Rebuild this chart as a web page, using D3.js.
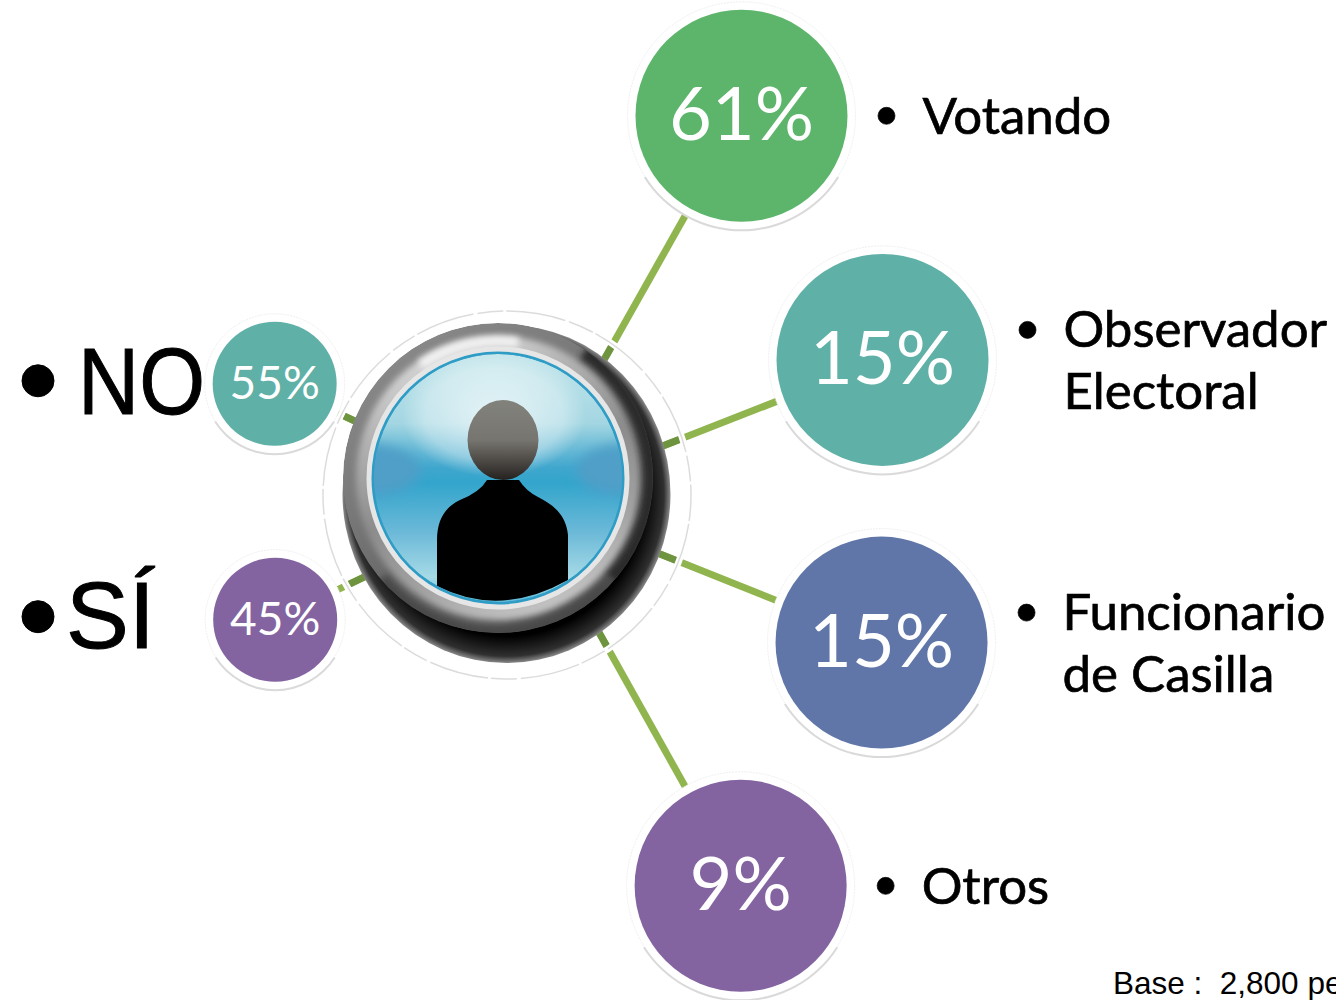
<!DOCTYPE html>
<html>
<head>
<meta charset="utf-8">
<script src="https://cdn.jsdelivr.net/npm/d3@7"></script>
<style>
  html, body { margin: 0; background: #fff; overflow: hidden; }
  svg { display: block; }
  text { white-space: pre; }
</style>
</head>
<body>
<svg id="chart" viewBox="0 0 1336 1000" width="1336" height="1000"></svg>
<script>
// values
const participation = [["Votando"], ["Observador", "Electoral"], ["Funcionario", "de Casilla"], ["Otros"]];
const participationPct = [61, 15, 15, 9];
const answers = ["NO", "SÍ"];
const answersPct = [55, 45];
const baseNote = "Base :  2,800 personas";

// layout: polar placement round the point where the spokes meet
const spokeOrigin = [525, 500];
const bigAngles = [29.4, 68.6, 111.8, 150.8];
const bigDistances = [441, 384, 384, 442];
const smallAngles = [294.9, 244.4];
const smallDistances = [276, 277];
const bigColors = ["#5cb56a", "#5fb0a6", "#6076a8", "#8364a1"];
const smallColors = ["#5fb0a6", "#8364a1"];
const bigR = 106;
const smallR = 62;
const hub = { x: 498, y: 478 };

const svg = d3.select("#chart");
const defs = svg.append("defs");

function place(angle, dist) {
  const p = d3.pointRadial(angle * Math.PI / 180, dist);
  return [spokeOrigin[0] + p[0], spokeOrigin[1] + p[1]];
}

const bubbles = participation.map((lines, i) => {
  const [x, y] = place(bigAngles[i], bigDistances[i]);
  return { lines, pct: participationPct[i], x, y, r: bigR, color: bigColors[i], size: 74 };
}).concat(answers.map((name, i) => {
  const [x, y] = place(smallAngles[i], smallDistances[i]);
  return { lines: [name], pct: answersPct[i], x, y, r: smallR, color: smallColors[i], size: 46 };
}));

function gradient(id, stops, x1 = 0, y1 = 0, x2 = 0, y2 = 1) {
  const g = defs.append("linearGradient").attr("id", id)
    .attr("x1", x1).attr("y1", y1).attr("x2", x2).attr("y2", y2);
  stops.forEach(s => g.append("stop").attr("offset", s[0]).attr("stop-color", s[1]).attr("stop-opacity", s[2] === undefined ? 1 : s[2]));
}

gradient("metalOuter", [[0, "#8c8c8c"], [0.3, "#7c7c7c"], [0.55, "#6a6a6a"], [0.8, "#6c6c6c"], [1, "#3c3c3c"]], 0.15, 0, 0.85, 1);
gradient("metalInner", [[0, "#dedede"], [0.22, "#b4b4b4"], [0.5, "#8c8c8c"], [0.75, "#a2a2a2"], [1, "#cacaca"]], 0.3, 0, 0.7, 1);
gradient("glass", [[0, "#c4e6eb"], [0.28, "#a3d6e2"], [0.46, "#3fa6cd"], [0.52, "#33a5cc"], [0.72, "#6cb9d8"], [0.9, "#a6dae6"], [1, "#5db8d6"]]);
gradient("head", [[0, "#82827c"], [0.5, "#77756f"], [1, "#25211f"]]);

const glow = defs.append("radialGradient").attr("id", "glow");
glow.append("stop").attr("offset", 0).attr("stop-color", "#fff").attr("stop-opacity", 0.7);
glow.append("stop").attr("offset", 0.75).attr("stop-color", "#fff").attr("stop-opacity", 0.35);
glow.append("stop").attr("offset", 1).attr("stop-color", "#fff").attr("stop-opacity", 0);

const shadowGrad = defs.append("radialGradient").attr("id", "shadow");
shadowGrad.append("stop").attr("offset", 0.84).attr("stop-color", "#000");
shadowGrad.append("stop").attr("offset", 0.96).attr("stop-color", "#303030");
shadowGrad.append("stop").attr("offset", 1).attr("stop-color", "#8a8a8a");

function blur(id, amount) {
  defs.append("filter").attr("id", id).attr("filterUnits", "userSpaceOnUse")
    .attr("x", -700).attr("y", -700).attr("width", 2800).attr("height", 2800)
    .append("feGaussianBlur").attr("stdDeviation", amount);
}
blur("soft", 3);
blur("softer", 6);

defs.append("clipPath").attr("id", "insideRing").append("circle")
  .attr("cx", 507).attr("cy", 495).attr("r", 181);
defs.append("clipPath").attr("id", "hubClip").append("circle")
  .attr("cx", 0).attr("cy", 0).attr("r", 155);
defs.append("clipPath").attr("id", "glassClip").append("circle")
  .attr("cx", hub.x).attr("cy", hub.y).attr("r", 124);

// spokes
svg.append("g").selectAll("line").data(bubbles).join("line")
  .attr("x1", spokeOrigin[0]).attr("y1", spokeOrigin[1])
  .attr("x2", d => d.x).attr("y2", d => d.y)
  .attr("stroke", "#90b54f").attr("stroke-width", 7);

// ring round the hub, it cuts the spokes
svg.append("circle").attr("cx", 507).attr("cy", 495).attr("r", 184)
  .attr("fill", "none").attr("stroke", "#fff").attr("stroke-width", 7);
svg.append("circle").attr("cx", 507).attr("cy", 495).attr("r", 184)
  .attr("fill", "none").attr("stroke", "#dcdcdc").attr("stroke-width", 1.5)
  .attr("stroke-dasharray", "26 3 60 4");

svg.append("g").attr("clip-path", "url(#insideRing)")
  .selectAll("line").data(bubbles).join("line")
  .attr("x1", spokeOrigin[0]).attr("y1", spokeOrigin[1])
  .attr("x2", d => d.x).attr("y2", d => d.y)
  .attr("stroke", "#6f9440").attr("stroke-width", 7);

// hub button
svg.append("ellipse").attr("cx", 506.5).attr("cy", 494).attr("rx", 164).attr("ry", 169)
  .attr("fill", "url(#shadow)");
const metal = svg.append("g").attr("transform", `translate(${hub.x},${hub.y})`)
  .attr("clip-path", "url(#hubClip)");
metal.append("circle").attr("r", 155).attr("fill", "url(#metalOuter)");
metal.append("circle").attr("r", 142).attr("fill", "url(#metalInner)")
  .attr("filter", "url(#soft)");
// highlight top left, dark band on the right
const ringArc = d3.arc();
metal.append("path")
  .attr("d", ringArc({ innerRadius: 132, outerRadius: 142, startAngle: -0.6, endAngle: 0.15 }))
  .attr("fill", "#f2f2f2").attr("filter", "url(#soft)");
metal.append("path")
  .attr("d", ringArc({ innerRadius: 145, outerRadius: 160, startAngle: 0.6, endAngle: 2.3 }))
  .attr("fill", "#2a2a2a").attr("filter", "url(#soft)");
metal.append("path")
  .attr("d", ringArc({ innerRadius: 147, outerRadius: 160, startAngle: 2.3, endAngle: 4 }))
  .attr("fill", "#4a4a4a").attr("filter", "url(#soft)");

svg.append("circle").attr("cx", hub.x).attr("cy", hub.y).attr("r", 129)
  .attr("fill", "#2f9cc6").attr("stroke", "#e6e6e6").attr("stroke-width", 5);

// glass with the light blobs, clipped to the disc
const glass = svg.append("g").attr("clip-path", "url(#glassClip)");
glass.append("circle").attr("cx", hub.x).attr("cy", hub.y).attr("r", 124).attr("fill", "url(#glass)");
glass.append("ellipse").attr("cx", hub.x - 128).attr("cy", hub.y - 8).attr("rx", 50).attr("ry", 26)
  .attr("fill", "#4f9fc8").attr("filter", "url(#softer)");
glass.append("ellipse").attr("cx", hub.x + 128).attr("cy", hub.y - 8).attr("rx", 50).attr("ry", 26)
  .attr("fill", "#4f9fc8").attr("filter", "url(#softer)");
glass.append("ellipse").attr("cx", hub.x - 4).attr("cy", 415).attr("rx", 92).attr("ry", 62).attr("fill", "url(#glow)");

// person
const person = svg.append("g").attr("clip-path", "url(#glassClip)");
const body = d3.path();
body.moveTo(487, 480);
body.quadraticCurveTo(480, 492, 460, 500);
body.bezierCurveTo(445, 507, 437, 520, 437, 540);
body.lineTo(437, 586);
body.quadraticCurveTo(500, 618, 568, 580);
body.lineTo(568, 535);
body.bezierCurveTo(566, 514, 552, 504, 538, 497);
body.quadraticCurveTo(526, 491, 519, 480);
body.closePath();
person.append("path").attr("d", body.toString()).attr("fill", "#000");
person.append("ellipse").attr("cx", 503).attr("cy", 440).attr("rx", 35.5).attr("ry", 40).attr("fill", "url(#head)");

// bubbles
const nodes = svg.append("g").selectAll("g").data(bubbles).join("g")
  .attr("transform", d => `translate(${d.x},${d.y})`);

nodes.append("circle").attr("r", d => d.r + 8).attr("fill", "#fff")
  .attr("stroke", "#f0f0f0").attr("stroke-width", 1).attr("stroke-dasharray", "2 1");
nodes.append("path")
  .attr("d", d => d3.arc()({ innerRadius: d.r + 7.5, outerRadius: d.r + 9.5, startAngle: Math.PI * 0.68, endAngle: Math.PI * 1.32 }))
  .attr("fill", "#dadada");
nodes.append("circle").attr("r", d => d.r).attr("fill", d => d.color);
nodes.append("text")
  .attr("text-anchor", "middle").attr("y", d => d.size * 0.33)
  .attr("font-family", "Lato").attr("font-size", d => d.size)
  .attr("fill", "#fff")
  .text(d => d.pct + "%");

// labels on the right
const rightLabels = svg.append("g").attr("font-family", "Lato").attr("font-size", 51)
  .attr("fill", "#000").attr("stroke", "#000").attr("stroke-width", 0.7);
const rightRows = bubbles.slice(0, 4).map(d => ({ lines: d.lines, x: d.x + 181, y: d.y }));
rightLabels.selectAll("circle").data(rightRows).join("circle")
  .attr("cx", d => d.x - 36).attr("cy", d => d.lines.length > 1 ? d.y - 30 : d.y).attr("r", 8.5);
rightLabels.selectAll("text").data(rightRows).join("text")
  .attr("y", d => d.lines.length > 1 ? d.y - 13 : d.y + 18)
  .each(function (d) {
    d3.select(this).selectAll("tspan").data(d.lines).join("tspan")
      .attr("x", d.x).attr("dy", (w, j) => j ? 62 : 0).text(w => w);
  });

// NO / SÍ on the left
const leftX = [78, 66];
const leftLen = [127, 89];
const left = svg.append("g").attr("font-family", "Liberation Sans").attr("font-size", 94)
  .attr("fill", "#000").attr("stroke", "#000").attr("stroke-width", 1);
left.selectAll("circle").data(answers).join("circle")
  .attr("cx", 38).attr("cy", (d, i) => bubbles[4 + i].y - 3).attr("r", 16);
left.selectAll("text").data(answers).join("text")
  .attr("x", (d, i) => leftX[i])
  .attr("y", (d, i) => bubbles[4 + i].y + (i ? 28 : 30))
  .attr("textLength", (d, i) => leftLen[i])
  .attr("lengthAdjust", "spacingAndGlyphs")
  .text(d => d);

svg.append("text").attr("x", 1113).attr("y", 994)
  .attr("font-family", "Liberation Sans").attr("font-size", 31.5).attr("fill", "#000")
  .text(baseNote);
</script>
</body>
</html>
